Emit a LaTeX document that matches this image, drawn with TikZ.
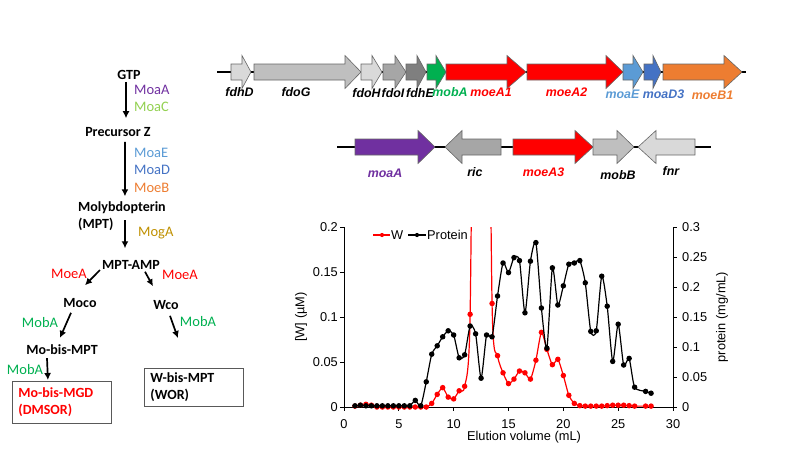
\documentclass[tikz,border=0pt]{standalone}
\usepackage{fontspec}
\setmainfont{Liberation Sans}
\newfontfamily\calibri{Carlito}
\usepackage{tikz}
\usetikzlibrary{arrows.meta,positioning}
\definecolor{mpurple}{HTML}{7030A0}
\definecolor{mlgreen}{HTML}{92D050}
\definecolor{mgreen}{HTML}{00B050}
\definecolor{mlblue}{HTML}{5B9BD5}
\definecolor{mblue}{HTML}{4472C4}
\definecolor{morange}{HTML}{ED7D31}
\definecolor{mgold}{HTML}{BF9000}
\definecolor{mred}{HTML}{FF0000}
\definecolor{gA}{HTML}{D9D9D9}
\definecolor{gB}{HTML}{BFBFBF}
\definecolor{gC}{HTML}{A6A6A6}
\definecolor{gD}{HTML}{7F7F7F}
% gene arrows: start, head start, end, y, colour
\newcommand{\generight}[5]{\filldraw[genebox,fill=#5] (#1,#4-8) -- (#2,#4-8) -- (#2,#4-16.5) -- (#3,#4) -- (#2,#4+16.5) -- (#2,#4+8) -- (#1,#4+8) -- cycle;}
% tip, head end, tail, y, colour
\newcommand{\geneleft}[5]{\filldraw[genebox,fill=#5] (#3,#4-8) -- (#2,#4-8) -- (#2,#4-16.5) -- (#1,#4) -- (#2,#4+16.5) -- (#2,#4+8) -- (#3,#4+8) -- cycle;}
\begin{document}
\begin{tikzpicture}[x=1pt,y=-1pt,
  met/.style={font=\calibri\bfseries\fontsize{14}{17}\selectfont, inner sep=2pt},
  enz/.style={font=\calibri\fontsize{14.5}{17}\selectfont, inner sep=1pt, anchor=west},
  prodbox/.style={draw=black!65, line width=0.8pt, font=\calibri\bfseries\fontsize{14}{17}\selectfont, align=left, text width=87pt, inner xsep=6pt, minimum width=99pt, minimum height=42pt, anchor=north west},
  arr/.style={-{Latex[length=7pt,width=7pt]}, line width=1.7pt},
  genebox/.style={draw=black!60, line width=0.6pt},
  geneline/.style={line width=1.3pt},
  genelab/.style={font=\bfseries\itshape\fontsize{12.4}{14}\selectfont, inner sep=0pt},
  ticklab/.style={font=\fontsize{12.8}{15}\selectfont, inner sep=1pt}]
\useasboundingbox (0,0) rectangle (800,450);

% pathway
\node[met] (gtp) at (129,75) {GTP};
\node[met] (prez) at (118,132) {Precursor Z};
\node[met, align=left, anchor=west] (mpt) at (76,216) {Molybdopterin\\(MPT)};
\node[met] (mptamp) at (131,265) {MPT-AMP};
\node[met] (moco) at (80,303) {Moco};
\node[met] (wco) at (166,305) {Wco};
\node[met] (mobis) at (62,350) {Mo-bis-MPT};
\node[prodbox, text=mred] (mgd) at (12,381) {Mo-bis-MGD\\(DMSOR)};
\node[prodbox, minimum height=38pt] (wor) at (144,368) {W-bis-MPT\\(WOR)};
\draw[arr] ([xshift=-3pt]gtp.south) -- ([xshift=8pt,yshift=7pt]prez.north);
\draw[arr] ([xshift=7pt,yshift=-3pt]prez.south) -- ([xshift=3pt,yshift=3pt]mpt.north);
\draw[arr] ([xshift=3pt,yshift=-4pt]mpt.center) -- ([xshift=-6pt,yshift=10pt]mptamp.north);
\draw[arr] ([yshift=-5pt]mptamp.west) -- ([xshift=5pt,yshift=11pt]moco.north);
\draw[arr] ([xshift=14pt]mptamp.south) -- ([xshift=-13pt,yshift=12pt]wco.north);
\draw[arr] ([xshift=-9pt,yshift=-3pt]moco.south) -- ([xshift=-2pt,yshift=5pt]mobis.north);
\draw[arr] ([xshift=4pt,yshift=-4pt]wco.south) -- ([xshift=-16pt,yshift=30pt]wor.north);
\draw[arr] ([xshift=-15pt,yshift=-1pt]mobis.south) -- ([xshift=-14pt,yshift=1pt]mgd.north);
\node[enz, text=mpurple] (moaa) at (133,90) {MoaA};
\node[enz, text=mlgreen] (moac) at (133,107) {MoaC};
\node[enz, text=mlblue] (moae) at (133,153) {MoaE};
\node[enz, text=mblue] (moad) at (133,170) {MoaD};
\node[enz, text=morange] (moeb) at (133,188) {MoeB};
\node[enz, text=mgold] (moga) at (137,233) {MogA};
\node[enz, text=mred, anchor=center] (moeal) at (69,274) {MoeA};
\node[enz, text=mred, anchor=center] (moear) at (180,275) {MoeA};
\node[enz, text=mgreen, anchor=center] (mobal) at (40,323) {MobA};
\node[enz, text=mgreen, anchor=center] (mobar) at (198,322) {MobA};
\node[enz, text=mgreen, anchor=center] (mobab) at (25,370) {MobA};

% gene cluster 1
\draw[geneline] (217,72) -- (746,72);
\generight{231}{242}{251}{72}{gA}
\generight{254}{345}{361}{72}{gB}
\generight{361}{372}{382}{72}{gA}
\generight{383}{395}{406}{72}{gC}
\generight{406}{417}{426}{72}{gD}
\generight{427}{436}{446}{72}{mgreen}
\generight{446}{507}{526}{72}{mred}
\generight{527}{606}{623}{72}{mred}
\generight{623}{633}{643}{72}{mlblue}
\generight{644}{653}{661}{72}{mblue}
\generight{663}{724}{742}{72}{morange}
\node[genelab] (fdhd) at (239.5,92) {fdhD};
\node[genelab] (fdog) at (296,92) {fdoG};
\node[genelab] (fdoh) at (366.5,93) {fdoH};
\node[genelab] (fdoi) at (393,93) {fdoI};
\node[genelab] (fdhe) at (420,93) {fdhE};
\node[genelab, text=mgreen] (moba) at (450,92) {mobA};
\node[genelab, text=mred] (moeaone) at (491,92) {moeA1};
\node[genelab, text=mred] (moeatwo) at (566.5,92) {moeA2};
\node[genelab, text=mlblue] (moaeg) at (622.5,94) {moaE};
\node[genelab, text=mblue] (moadthree) at (663.5,94) {moaD3};
\node[genelab, text=morange] (moebone) at (712.5,95) {moeB1};

% gene cluster 2
\draw[geneline] (337,147) -- (711,147);
\generight{355}{418}{435}{147}{mpurple}
\geneleft{445}{462}{501}{147}{gC}
\generight{513}{575}{593}{147}{mred}
\generight{593}{617}{634}{147}{gB}
\geneleft{638}{656}{695}{147}{gA}
\node[genelab, text=mpurple] (moaag) at (385,173) {moaA};
\node[genelab] (ric) at (475,172) {ric};
\node[genelab, text=mred] (moeathree) at (543.5,172) {moeA3};
\node[genelab] (mobb) at (618,175) {mobB};
\node[genelab] (fnr) at (671,171) {fnr};

% chart axes
\draw[line width=1pt] (344,227) -- (344,407) -- (673,407) -- (673,227);
\foreach \v [count=\i from 0] in {0,0.05,0.1,0.15,0.2} {
  \draw[line width=1pt] (340,407-45*\i) -- (344,407-45*\i);
  \node[ticklab, anchor=east] (yl\i) at (339,407-45*\i) {\v};
}
\foreach \v [count=\i from 0] in {0,0.05,0.1,0.15,0.2,0.25,0.3} {
  \draw[line width=1pt] (673,407-30*\i) -- (677,407-30*\i);
  \node[ticklab, anchor=west] (yr\i) at (681,407-30*\i) {\v};
}
\foreach \v [count=\i from 0] in {0,5,...,30} {
  \draw[line width=1pt] (344+54.833*\i,407) -- (344+54.833*\i,411);
  \node[ticklab] (xl\i) at (344+54.833*\i,424) {\v};
}
\node[ticklab, rotate=90] (ylab) at (301,317) {[W] (µM)};
\node[ticklab, rotate=90] (yrlab) at (722,317) {protein (mg/mL)};
\node[ticklab] (xlab) at (524,437) {Elution volume (mL)};

% W
\begin{scope}[shift={(344,407)}, x=10.967pt, y=900pt]
\clip (0,-0.02) rectangle (30,0.2);
\draw[mred, line width=1.2pt] plot[smooth, tension=0.4, mark=*, mark size=2.1pt] coordinates {
(1,0.001) (1.5,0.002) (2,0.003) (2.5,0.002) (3,0) (3.5,0) (4,0) (4.5,0) (5,0) (5.5,0) (6,0) (6.5,0) (7,0)
(7.5,0) (8,0.004) (8.5,0.014) (9,0.0215) (9.5,0.011) (10,0.009) (10.5,0.018) (11,0.023) (11.5,0.103)
(12,0.7) (12.5,1.0) (13,0.7) (13.5,0.115) (14,0.057) (14.5,0.038) (15,0.026) (15.5,0.031) (16,0.04)
(16.5,0.038) (17,0.031) (17.5,0.052) (18,0.083) (18.5,0.064) (19,0.047) (19.5,0.053) (20,0.035)
(20.5,0.013) (21,0.004) (21.5,0.0015) (22,0.001) (22.5,0.001) (23,0.001) (23.5,0.001) (24,0.0015)
(24.5,0.002) (25,0.002) (25.5,0.002) (26,0.0015) (26.5,0.001) (27.5,0.001) (28,0.001)};
\end{scope}

% protein
\begin{scope}[shift={(344,407)}, x=10.967pt, y=600pt]
\draw[line width=1.2pt] plot[smooth, tension=0.4, mark=*, mark size=2.1pt] coordinates {
(1,0.002) (1.5,0.003) (2,0.002) (2.5,0.002) (3,0.002) (3.5,0.002) (4,0.002) (4.5,0.002) (5,0.002)
(5.5,0.002) (6,0.002) (6.5,0.011) (7,0.002) (7.5,0.042) (8,0.088) (8.5,0.102) (9,0.117) (9.5,0.127)
(10,0.12) (10.5,0.082) (11,0.087) (11.5,0.135) (12,0.122) (12.5,0.048) (13,0.12) (13.5,0.117)
(14,0.185) (14.5,0.24) (15,0.224) (15.5,0.249) (16,0.244) (16.5,0.157) (17,0.243) (17.5,0.274)
(18,0.165) (18.5,0.098) (19,0.232) (19.5,0.17) (20,0.202) (20.5,0.238) (21,0.24) (21.5,0.244)
(22,0.207) (22.5,0.126) (23,0.127) (23.5,0.218) (24,0.168) (24.5,0.076) (25,0.138) (25.5,0.07)
(26,0.081) (26.5,0.033) (27.5,0.026) (28,0.023)};
\end{scope}

% legend
\node[ticklab, anchor=west] (legw) at (390,235) {W};
\node[ticklab, anchor=west] (legp) at (426,235) {Protein};
\draw[mred, line width=1.2pt] ([xshift=-17pt]legw.west) -- (legw.west);
\fill[mred] ([xshift=-8pt]legw.west) circle (2.1pt);
\draw[line width=1.2pt] ([xshift=-18pt]legp.west) -- (legp.west);
\fill ([xshift=-9pt]legp.west) circle (2.1pt);
\end{tikzpicture}
\end{document}
